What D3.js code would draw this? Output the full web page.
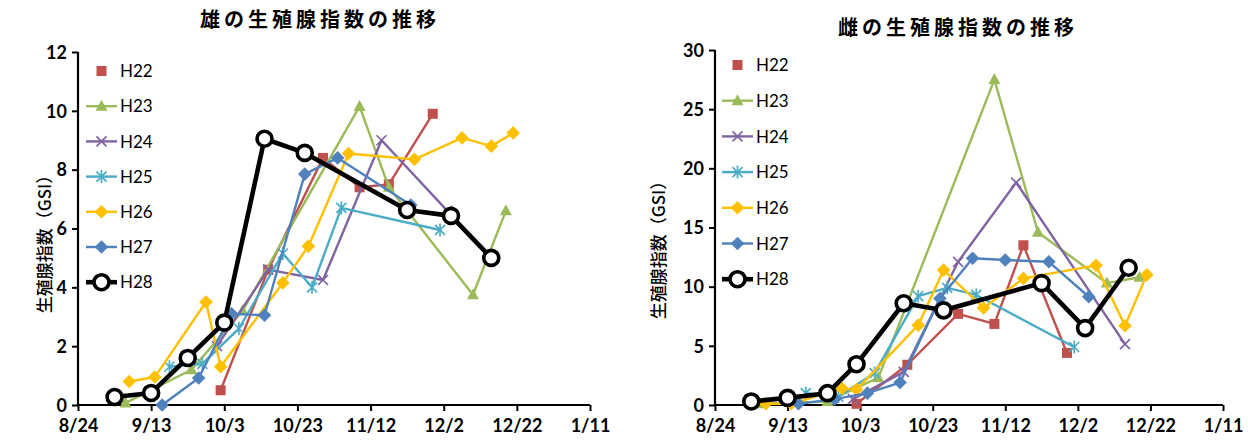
<!DOCTYPE html>
<html><head><meta charset="utf-8">
<script src="https://cdn.jsdelivr.net/npm/d3@7"></script>
<style>
html,body{margin:0;padding:0;background:#fff;}
svg{display:block;}
.tick-label{font-family:Lato,"Open Sans",sans-serif;font-weight:bold;font-size:18px;fill:#000;}
.leg{font-family:Lato,"Open Sans",sans-serif;font-size:17px;fill:#000;}
.title{font-family:"Noto Sans CJK JP",sans-serif;font-weight:bold;font-size:20px;fill:#000;}
.ylab{font-family:"Noto Sans CJK JP",sans-serif;font-weight:500;font-size:17px;fill:#000;}
</style>
</head><body>
<svg id="c" width="1248" height="442"></svg>
<script>
// ---- tick labels / categories ----
const xTickLabels = ["8/24","9/13","10/3","10/23","11/12","12/2","12/22","1/11"];
const seriesNames = ["H22","H23","H24","H25","H26","H27","H28"];
const seriesColors = ["#C0504D","#9BBB59","#8064A2","#4BACC6","#FFC000","#4F81BD","#000000"];
const seriesMarkers = ["square","triangle","x","star","diamond","diamond","circle"];
const maleTitle = "雄の生殖腺指数の推移";
const femaleTitle = "雌の生殖腺指数の推移";
const yLabel = "生殖腺指数（GSI）";
const maleYTicks = [0,2,4,6,8,10,12];
const femaleYTicks = [0,5,10,15,20,25,30];

// ---- male series [date, GSI] ----
const maleH22 = [["10/2",0.5],["10/15",4.6],["10/30",8.4],["11/9",7.4],["11/17",7.5],["11/29",9.9]];
const maleH23 = [["9/6",0.07],["9/24",1.2],["10/8",3.2],["11/9",10.15],["11/17",7.4],["12/10",3.75],["12/19",6.6]];
const maleH24 = [["10/1",2.0],["10/15",4.6],["10/30",4.25],["11/15",9.0],["12/3",6.6]];
const maleH25 = [["9/18",1.3],["9/27",1.4],["10/7",2.6],["10/19",5.15],["10/27",4.0],["11/4",6.7],["12/1",5.95]];
const maleH26 = [["9/7",0.8],["9/14",0.95],["9/28",3.5],["10/2",1.3],["10/19",4.15],["10/26",5.4],["11/6",8.55],["11/24",8.35],["12/7",9.08],["12/15",8.8],["12/21",9.25]];
const maleH27 = [["9/16",0],["9/26",0.92],["10/5",3.1],["10/14",3.05],["10/25",7.85],["11/3",8.4],["11/23",6.8]];
const maleH28 = [["9/3",0.27],["9/13",0.41],["9/23",1.6],["10/3",2.8],["10/14",9.05],["10/25",8.57],["11/22",6.63],["12/4",6.43],["12/15",5.0]];

// ---- female series [date, GSI] ----
const femaleH22 = [["10/2",0.1],["10/16",3.4],["10/30",7.7],["11/9",6.85],["11/17",13.5],["11/29",4.4]];
const femaleH23 = [["9/6",0.1],["9/24",0.3],["10/8",2.3],["11/9",27.5],["11/21",14.6],["12/10",10.3],["12/19",10.8]];
const femaleH24 = [["10/1",0.5],["10/15",2.8],["10/30",12.1],["11/15",18.8],["12/15",5.15]];
const femaleH25 = [["9/18",1.0],["9/27",0.7],["10/7",2.7],["10/19",9.2],["10/27",9.9],["11/4",9.3],["12/1",4.9]];
const femaleH26 = [["9/7",0.1],["9/14",0.1],["9/28",1.4],["10/2",1.3],["10/19",6.75],["10/26",11.4],["11/6",8.2],["11/17",10.7],["12/7",11.8],["12/15",6.7],["12/21",11.0]];
const femaleH27 = [["9/16",0.1],["9/26",0.5],["10/5",1.0],["10/14",1.9],["10/25",9.0],["11/3",12.4],["11/12",12.25],["11/24",12.1],["12/5",9.15]];
const femaleH28 = [["9/3",0.3],["9/13",0.6],["9/24",1.0],["10/2",3.45],["10/15",8.6],["10/26",8.0],["11/22",10.3],["12/4",6.5],["12/16",11.6]];

function parseMD(s){
  const [m,d] = s.split("/").map(Number);
  return new Date(m < 6 ? 2017 : 2016, m-1, d);
}

const svg = d3.select("#c");

function drawMarker(g, type, x, y, color){
  if(type==="square"){
    g.append("rect").attr("x",x-5).attr("y",y-5).attr("width",10).attr("height",10).attr("fill",color);
  } else if(type==="triangle"){
    g.append("path").attr("d",`M${x},${y-6.5}L${x+6},${y+4.5}L${x-6},${y+4.5}Z`).attr("fill",color);
  } else if(type==="diamond"){
    g.append("path").attr("d",`M${x},${y-6.8}L${x+6.8},${y}L${x},${y+6.8}L${x-6.8},${y}Z`).attr("fill",color);
  } else if(type==="x"){
    g.append("path").attr("d",`M${x-5},${y-5}L${x+5},${y+5}M${x-5},${y+5}L${x+5},${y-5}`).attr("stroke",color).attr("stroke-width",1.7).attr("fill","none");
  } else if(type==="star"){
    g.append("path").attr("d",`M${x-5},${y-5}L${x+5},${y+5}M${x-5},${y+5}L${x+5},${y-5}M${x},${y-6.5}L${x},${y+6.5}`).attr("stroke",color).attr("stroke-width",1.7).attr("fill","none");
  } else if(type==="circle"){
    g.append("circle").attr("cx",x).attr("cy",y).attr("r",7.5).attr("fill","#fff").attr("stroke","#000").attr("stroke-width",3.6);
  }
}

function drawChart(cfg){
  const x = d3.scaleTime().domain([parseMD("8/24"), parseMD("1/11")]).range(cfg.xr);
  const y = d3.scaleLinear().domain([0, cfg.yMax]).range(cfg.yr);
  const g = svg.append("g");

  // title
  g.append("text").attr("class","title").attr("x",cfg.titleX).attr("y",cfg.titleY)
    .attr("text-anchor","middle").style("letter-spacing","4px").text(cfg.title);
  // y label
  g.append("text").attr("class","ylab")
    .attr("transform",`translate(${cfg.ylabX},${cfg.ylabY}) rotate(-90)`)
    .attr("text-anchor","middle").text(yLabel);

  // axes
  const xTicks = xTickLabels.map(parseMD);
  const xAxis = d3.axisBottom(x).tickValues(xTicks).tickSize(6).tickFormat((d,i)=>xTickLabels[i]);
  const yAxis = d3.axisLeft(y).tickValues(cfg.yTicks).tickSize(6).tickFormat(d3.format("d"));
  const gx = g.append("g").attr("transform",`translate(0,${cfg.yr[0]})`).call(xAxis);
  const gy = g.append("g").attr("transform",`translate(${cfg.xr[0]},0)`).call(yAxis);
  [gx,gy].forEach(a=>{
    a.select(".domain").attr("stroke","#000").attr("stroke-width",2.2);
    a.selectAll(".tick line").attr("stroke","#000").attr("stroke-width",2);
    a.selectAll(".tick text").attr("class","tick-label").attr("fill","#000");
  });
  gx.selectAll(".tick text").attr("dy","1.05em").attr("y",8);
  gy.selectAll(".tick text").attr("x",-11).attr("dy","0.35em");
  gx.select(".domain").attr("d",`M${cfg.xr[0]},0H${cfg.xr[1]}`);
  gy.select(".domain").attr("d",`M0,${cfg.yr[0]}V${cfg.yr[1]}`);

  // series
  const line = d3.line().x(d=>x(parseMD(d[0]))).y(d=>y(d[1]));
  cfg.series.forEach((s,i)=>{
    const color = seriesColors[i];
    const sg = g.append("g");
    sg.append("path").attr("d",line(s)).attr("fill","none").attr("stroke",color)
      .attr("stroke-width", i===6 ? 4.6 : 2.4).attr("stroke-linejoin","round");
    s.forEach(d=>drawMarker(sg, seriesMarkers[i], x(parseMD(d[0])), y(d[1]), color));
  });

  // legend
  seriesNames.forEach((n,i)=>{
    const ly = cfg.legY0 + i*cfg.legDy;
    const lg = g.append("g");
    if(i>0){
      lg.append("line").attr("x1",cfg.legX).attr("x2",cfg.legX+31).attr("y1",ly).attr("y2",ly)
        .attr("stroke",seriesColors[i]).attr("stroke-width", i===6 ? 4.6 : 2.4);
    }
    drawMarker(lg, seriesMarkers[i], cfg.legX+15.5, ly, seriesColors[i]);
    lg.append("text").attr("class","leg").attr("x",cfg.legX+34).attr("y",ly).attr("dy","0.36em").text(n);
  });
}

drawChart({
  xr:[78,590], yr:[405,52], yMax:12, yTicks:maleYTicks,
  title:maleTitle, titleX:320, titleY:27, ylabX:51, ylabY:240,
  legX:86, legY0:71, legDy:35.2,
  series:[maleH22,maleH23,maleH24,maleH25,maleH26,maleH27,maleH28]
});
drawChart({
  xr:[715,1223], yr:[405,50], yMax:30, yTicks:femaleYTicks,
  title:femaleTitle, titleX:958, titleY:35, ylabX:665, ylabY:246,
  legX:722, legY0:65, legDy:35.7,
  series:[femaleH22,femaleH23,femaleH24,femaleH25,femaleH26,femaleH27,femaleH28]
});
</script>
</body></html>
